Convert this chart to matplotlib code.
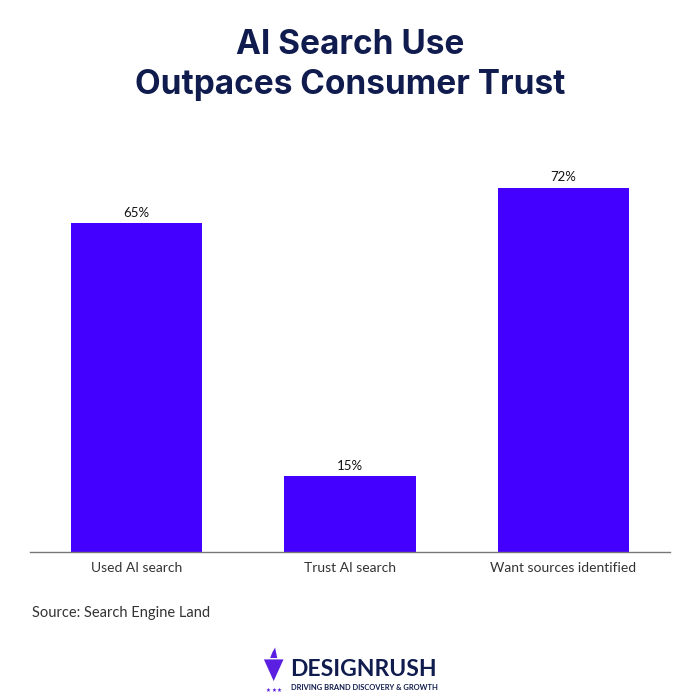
import matplotlib

matplotlib.use("Agg")
import matplotlib.pyplot as plt
from matplotlib.patches import Polygon

CATEGORIES = ["Used AI search", "Trust AI search", "Want sources identified"]
VALUES = [65, 15, 72]
VALUE_LABELS = ["65%", "15%", "72%"]

BAR_COLOR = "#4400ff"
NAVY = "#101c4e"
AXIS_GRAY = "#777777"

plt.rcParams["font.family"] = ["Lato", "DejaVu Sans"]


def main():
    fig = plt.figure(figsize=(7, 7), dpi=100)
    ax = fig.add_axes([0.043, 0.211, 0.914, 0.579])

    positions = range(len(CATEGORIES))
    bars = ax.bar(positions, VALUES, width=0.615, color=BAR_COLOR, zorder=2)
    for bar, label in zip(bars, VALUE_LABELS):
        ax.text(
            bar.get_x() + bar.get_width() / 2,
            bar.get_height() + 0.8,
            label,
            ha="center",
            va="bottom",
            fontsize=9.5,
            color="#111111",
        )

    ax.set_xlim(-0.5, 2.5)
    ax.set_ylim(0, 80)
    ax.set_xticks(list(positions))
    ax.set_xticklabels(CATEGORIES, fontsize=10, color="#333333")
    ax.tick_params(axis="x", length=0, pad=7)
    ax.set_yticks([])
    for side in ["top", "right", "left"]:
        ax.spines[side].set_visible(False)
    ax.spines["bottom"].set_color(AXIS_GRAY)
    ax.spines["bottom"].set_linewidth(1.0)

    title_font = ["Inter", "Lato", "DejaVu Sans"]
    fig.text(0.5, 0.936, "AI Search Use", ha="center", va="center",
             fontsize=24, fontweight="bold", color=NAVY, family=title_font)
    fig.text(0.5, 0.878, "Outpaces Consumer Trust", ha="center", va="center",
             fontsize=24, fontweight="bold", color=NAVY, family=title_font)

    fig.text(0.046, 0.125, "Source: Search Engine Land", ha="left", va="center",
             fontsize=10.5, color="#333333")

    # logo
    fig.text(0.415, 0.044, "DESIGNRUSH", ha="left", va="center",
             fontsize=16.5, fontweight="bold", color=NAVY)
    fig.text(0.416, 0.018, "DRIVING BRAND DISCOVERY & GROWTH", ha="left", va="center",
             fontsize=5.4, fontweight="bold", color=NAVY)
    icon = Polygon(
        [(0.377, 0.058), (0.405, 0.058), (0.391, 0.027)],
        closed=True, transform=fig.transFigure, facecolor="#5a1fe0", edgecolor="none",
    )
    fig.patches.append(icon)
    flame = Polygon(
        [(0.386, 0.060), (0.396, 0.060), (0.393, 0.075), (0.389, 0.068)],
        closed=True, transform=fig.transFigure, facecolor="#5a1fe0", edgecolor="none",
    )
    fig.patches.append(flame)
    for dx in (0.383, 0.391, 0.399):
        fig.text(dx, 0.013, "★", ha="center", va="center", fontsize=4,
                 color="#5a1fe0", family="DejaVu Sans")

    fig.savefig("out.png", dpi=100, facecolor="white")
    plt.close(fig)


if __name__ == "__main__":
    main()
